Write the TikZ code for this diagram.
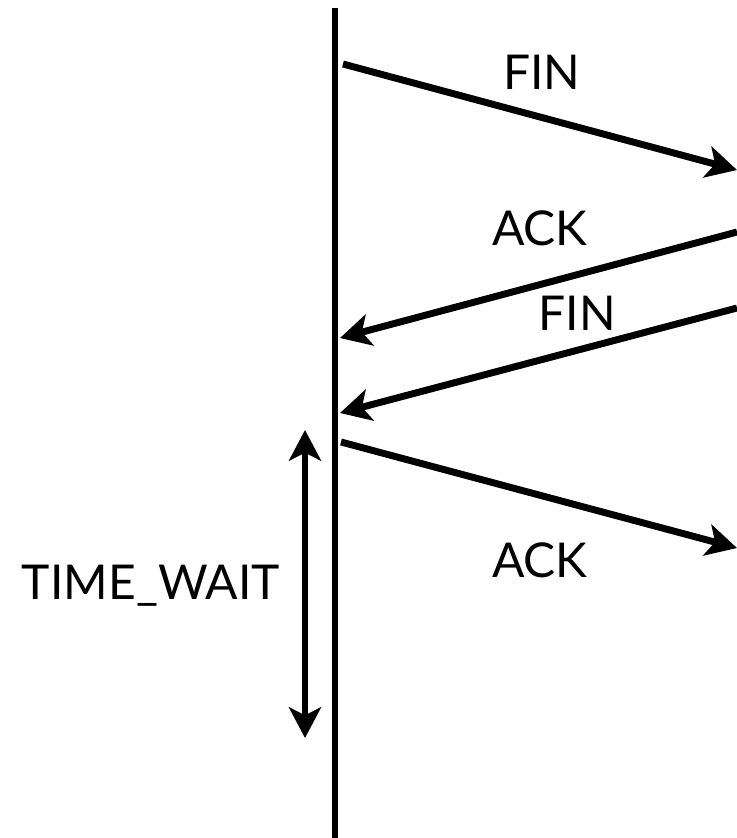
\documentclass[tikz,border=0pt]{standalone}
\usepackage{fontspec}
\setmainfont{Lato}
\usetikzlibrary{arrows.meta}
\begin{document}
\begin{tikzpicture}[x=0.75pt,y=-0.75pt,
  msg/.style={line width=5.2pt,-{Stealth[length=23pt,width=24pt,inset=6pt]}},
  timeline/.style={line width=5pt},
  lbl/.style={font=\fontsize{36}{42}\selectfont,inner sep=0pt}]
\useasboundingbox (0,0) rectangle (737,838);
\coordinate (top) at (335,8);
\coordinate (bot) at (335,838);
\draw[timeline] (top) -- (bot);
\coordinate (a1) at (343,64);
\coordinate (b1) at (737,170);
\coordinate (a2) at (737,232);
\coordinate (b2) at (340,338);
\coordinate (a3) at (737,308);
\coordinate (b3) at (340,413);
\coordinate (a4) at (341,442);
\coordinate (b4) at (737,548);
\draw[msg] (a1) -- (b1);
\draw[msg] (a2) -- (b2);
\draw[msg] (a3) -- (b3);
\draw[msg] (a4) -- (b4);
\node[lbl] (fin1) at (542,72) {FIN};
\node[lbl] (ack1) at (540,228) {ACK};
\node[lbl] (fin2) at (577,313) {FIN};
\node[lbl] (ack2) at (540,560) {ACK};
\coordinate (tw1) at (305,430);
\coordinate (tw2) at (305,738);
\draw[line width=5.2pt,{Stealth[length=23pt,width=24pt,inset=6pt]}-{Stealth[length=23pt,width=24pt,inset=6pt]}] (tw1) -- (tw2);
\node[lbl] (tw) at (151,586) {TIME\_WAIT};
\end{tikzpicture}
\end{document}
